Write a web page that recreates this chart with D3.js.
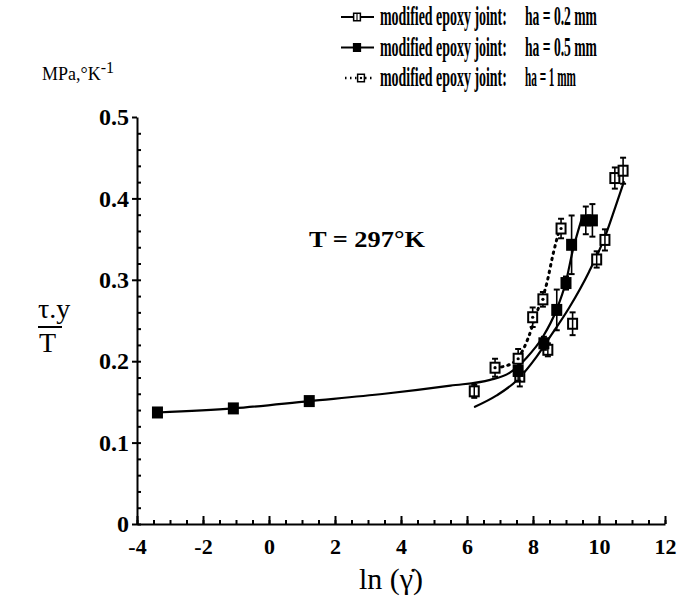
<!DOCTYPE html>
<html>
<head>
<meta charset="utf-8">
<script src="https://cdn.jsdelivr.net/npm/d3@7"></script>
<style>
  body { margin: 0; background: #fff; }
  svg { font-family: "Liberation Serif", "Times New Roman", serif; }
</style>
</head>
<body>
<div id="wrapper"></div>
<script>
// tick values
const xTicks = [-4, -2, 0, 2, 4, 6, 8, 10, 12];
const yTicks = [0, 0.1, 0.2, 0.3, 0.4, 0.5];
const legendLabels = ["ha = 0.2 mm", "ha = 0.5 mm", "ha = 1 mm"];

// ha = 0.2 mm (open squares)
const ha02X = [6.22, 7.6, 8.45, 9.2, 9.93, 10.18, 10.48, 10.73];
const ha02Y = [0.163, 0.181, 0.214, 0.246, 0.325, 0.349, 0.425, 0.434];
const ha02Err = [0.008, 0.012, 0.008, 0.014, 0.010, 0.013, 0.013, 0.016];
const ha02FitX = [6.24, 6.9, 7.5, 8.1, 8.5, 9.1, 9.7, 10.2, 10.5, 10.75];
const ha02FitY = [0.144, 0.158, 0.176, 0.205, 0.229, 0.266, 0.310, 0.355, 0.390, 0.420];

// ha = 0.5 mm (filled squares)
const ha05X = [-3.38, -1.08, 1.22, 7.55, 8.33, 8.72, 9.0, 9.17, 9.6, 9.8];
const ha05Y = [0.137, 0.142, 0.151, 0.188, 0.222, 0.263, 0.296, 0.343, 0.373, 0.373];
const ha05Err = [0, 0, 0, 0.012, 0.008, 0.025, 0.008, 0.036, 0.017, 0.02];
const ha05FitX = [-3.38, -1.08, 1.22, 3.5, 5.5, 6.7, 7.3, 7.8, 8.3, 8.7, 9.0, 9.2, 9.5];
const ha05FitY = [0.137, 0.142, 0.151, 0.160, 0.170, 0.177, 0.186, 0.204, 0.230, 0.262, 0.298, 0.335, 0.378];

// ha = 1 mm (dotted)
const ha1X = [6.85, 7.55, 7.99, 8.3, 8.85];
const ha1Y = [0.192, 0.203, 0.254, 0.276, 0.363];
const ha1Err = [0.011, 0.012, 0.012, 0.009, 0.012];
const ha1FitX = [6.85, 7.3, 7.6, 7.85, 8.1, 8.42, 8.6, 8.8];
const ha1FitY = [0.192, 0.196, 0.207, 0.228, 0.258, 0.296, 0.330, 0.362];

const zip = (xs, ys, es) => xs.map((x, i) => ({ x, y: ys[i], e: es ? es[i] : 0 }));

const series = [
  { name: legendLabels[0], pts: zip(ha02X, ha02Y, ha02Err), fit: zip(ha02FitX, ha02FitY), marker: "open", dash: null },
  { name: legendLabels[1], pts: zip(ha05X, ha05Y, ha05Err), fit: zip(ha05FitX, ha05FitY), marker: "filled", dash: null },
  { name: legendLabels[2], pts: zip(ha1X, ha1Y, ha1Err), fit: zip(ha1FitX, ha1FitY), marker: "dot", dash: "1.5,5" },
];

const serif = "Liberation Serif";

let dimensions = {
  width: 677,
  height: 596,
  margin: { top: 117, right: 12, bottom: 72, left: 137 },
};
dimensions.boundedWidth = dimensions.width - dimensions.margin.left - dimensions.margin.right;
dimensions.boundedHeight = dimensions.height - dimensions.margin.top - dimensions.margin.bottom;

const svg = d3.select("#wrapper")
  .append("svg")
  .attr("width", dimensions.width)
  .attr("height", dimensions.height)
  .attr("font-family", serif);

const bounds = svg.append("g")
  .attr("transform", `translate(${dimensions.margin.left},${dimensions.margin.top})`);

const xScale = d3.scaleLinear().domain([-4, 12]).range([0, dimensions.boundedWidth]);
const yScale = d3.scaleLinear().domain([0, 0.5]).range([dimensions.boundedHeight, 0]);

// squeeze a text horizontally so it spans the given width
function squeeze(parent, x, y, str, size, width, anchor) {
  const g = parent.append("g");
  const t = g.append("text")
    .attr("font-family", serif)
    .attr("font-size", size).attr("font-weight", "bold")
    .text(str);
  const w = t.node().getComputedTextLength();
  const sx = width / w;
  const x0 = anchor === "middle" ? x - width / 2 : x;
  g.attr("transform", `translate(${x0},${y}) scale(${sx},1)`);
  return g;
}

// axes
const xMinor = bounds.append("g")
  .attr("transform", `translate(0,${dimensions.boundedHeight})`)
  .call(d3.axisBottom(xScale).tickValues(d3.range(-4, 12.01, 0.5)).tickSize(-4).tickSizeOuter(0).tickFormat(""));
const xMajor = bounds.append("g")
  .attr("transform", `translate(0,${dimensions.boundedHeight})`)
  .call(d3.axisBottom(xScale).tickValues(xTicks).tickSize(-8).tickSizeOuter(0).tickPadding(14).tickFormat(d3.format("d")));
xMajor.attr("font-family", serif);
xMajor.selectAll("text")
  .attr("font-family", serif)
  .attr("font-size", 22).attr("font-weight", "bold").attr("fill", "#000")
  .text(d => d < 0 ? "-" + Math.abs(d) : d);

const yMinor = bounds.append("g")
  .call(d3.axisLeft(yScale).tickValues(d3.range(0, 0.5, 0.02)).tickSize(-4).tickSizeOuter(0).tickFormat(""));
const yMajor = bounds.append("g")
  .call(d3.axisLeft(yScale).tickValues(yTicks).tickSize(5).tickSizeOuter(0).tickPadding(3).tickFormat(d => d === 0 ? "0" : d3.format(".1f")(d)));
yMajor.attr("font-family", serif);
yMajor.selectAll("text")
  .attr("font-family", serif)
  .attr("font-size", 24).attr("font-weight", "bold").attr("fill", "#000");

bounds.selectAll(".domain, .tick line").attr("stroke", "#000").attr("stroke-width", 2);
xMinor.select(".domain").remove();
yMinor.select(".domain").remove();

// fit curves
const lineGenerator = d3.line()
  .x(d => xScale(d.x))
  .y(d => yScale(d.y))
  .curve(d3.curveMonotoneX);

bounds.selectAll(".fit")
  .data(series)
  .join("path")
  .attr("class", "fit")
  .attr("d", d => lineGenerator(d.fit))
  .attr("fill", "none")
  .attr("stroke", "#000")
  .attr("stroke-width", d => d.dash ? 3 : 2.2)
  .attr("stroke-linecap", "round")
  .attr("stroke-dasharray", d => d.dash);

// markers and error bars
function drawMarker(g, type) {
  g.append("rect")
    .attr("x", -4.5).attr("y", -5).attr("width", 9).attr("height", 10)
    .attr("fill", type === "filled" ? "#000" : "#fff")
    .attr("stroke", "#000").attr("stroke-width", 2);
  if (type === "dot") {
    g.append("circle").attr("r", 1.6).attr("fill", "#000");
  } else if (type === "open") {
    g.append("line").attr("y1", -5).attr("y2", 5).attr("stroke", "#000").attr("stroke-width", 1.5);
  }
}

series.forEach(s => {
  const pts = bounds.append("g").selectAll("g")
    .data(s.pts)
    .join("g")
    .attr("transform", d => `translate(${xScale(d.x)},${yScale(d.y)})`);
  pts.filter(d => d.e > 0).each(function (d) {
    const g = d3.select(this);
    const top = yScale(d.y + d.e) - yScale(d.y);
    const bot = yScale(d.y - d.e) - yScale(d.y);
    g.append("line").attr("y1", top).attr("y2", bot).attr("stroke", "#000").attr("stroke-width", 1.6);
    [top, bot].forEach(v => g.append("line").attr("x1", -3).attr("x2", 3).attr("y1", v).attr("y2", v)
      .attr("stroke", "#000").attr("stroke-width", 2));
  });
  pts.each(function () { drawMarker(d3.select(this), s.marker); });
});

// annotation
squeeze(svg, 367, 247, "T = 297°K", 24, 116, "middle");

// legend
const legend = svg.append("g");
series.forEach((s, i) => {
  const cy = 17 + i * 30.5;
  const row = legend.append("g").attr("transform", `translate(0,${cy})`);
  row.append("line")
    .attr("x1", s.dash ? 345 : 341).attr("x2", 374)
    .attr("stroke", "#000").attr("stroke-width", s.dash ? 2.5 : 2)
    .attr("stroke-dasharray", s.dash ? "1.5,3.5" : null);
  const m = row.append("g").attr("transform", `translate(${s.dash ? 361 : 357},0) scale(0.75)`);
  drawMarker(m, s.marker);
  squeeze(row, 380, 8, "modified epoxy joint:", 27, 127);
  squeeze(row, 525, 8, s.name, 27, i === 2 ? 51 : 72);
});

// units
const units = svg.append("text")
  .attr("x", 42).attr("y", 80)
  .attr("font-size", 18);
units.append("tspan").text("MPa,°K");
units.append("tspan").attr("dy", -7).attr("font-size", 16).text("-1");

// y title
const yTitle = svg.append("g").attr("font-size", 28);
yTitle.append("text").attr("x", 38).attr("y", 318).text("τ.y");
yTitle.append("line").attr("x1", 38).attr("x2", 62).attr("y1", 327).attr("y2", 327)
  .attr("stroke", "#000").attr("stroke-width", 2);
yTitle.append("text").attr("x", 39).attr("y", 352).text("T");

// x title
svg.append("text")
  .attr("x", 391).attr("y", 589)
  .attr("text-anchor", "middle")
  .attr("font-size", 30)
  .text("ln (γ\u0307)");
</script>
</body>
</html>
